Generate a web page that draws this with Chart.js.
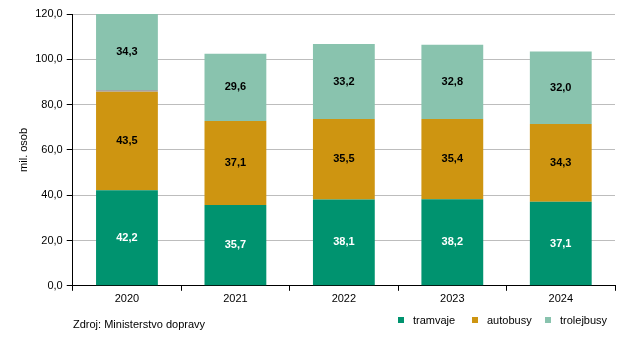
<!DOCTYPE html>
<html>
<head>
<meta charset="utf-8">
<script src="https://cdn.jsdelivr.net/npm/chart.js@4"></script>
<style>
body { margin: 0; background: #fff; font-family: "Liberation Sans", Arial, sans-serif; }
#wrap { position: relative; width: 639px; height: 340px; }
#src { position: absolute; left: 73px; top: 318px; font-size: 11px; color: #000; }
#legend span.it { position: absolute; top: 313px; font-size: 11px; color: #000; display: flex; align-items: center; height: 14px; white-space: nowrap; }
#legend i { display: inline-block; width: 6px; height: 6px; margin-right: 9px; }
</style>
</head>
<body>
<div id="wrap">
<canvas id="myChart" width="639" height="340"></canvas>
<div id="src">Zdroj: Ministerstvo dopravy</div>
<div id="legend"></div>
</div>
<script>
const years = ["2020", "2021", "2022", "2023", "2024"];
const tramvaje = [42.2, 35.7, 38.1, 38.2, 37.1];
const autobusy = [43.5, 37.1, 35.5, 35.4, 34.3];
const ostatni = [0.8, 0, 0, 0, 0];
const trolejbusy = [34.3, 29.6, 33.2, 32.8, 32.0];
const yTicks = [0, 20, 40, 60, 80, 100, 120];

const ctx = document.getElementById('myChart');
const FONT = '"Liberation Sans", Arial, sans-serif';

function fmt(v) {
return v.toFixed(1).replace('.', ',');
}

// values written in the middle of each segment
const barLabels = {
id: 'barLabels',
afterDatasetsDraw(chart) {
const c = chart.ctx;
c.save();
c.font = 'bold 11px ' + FONT;
c.textAlign = 'center';
c.textBaseline = 'middle';
chart.data.datasets.forEach((ds, i) => {
if (!ds.showLabels) return;
chart.getDatasetMeta(i).data.forEach((bar, j) => {
let top = Math.max(bar.y, chart.chartArea.top);
let y = (top + bar.base) / 2;
c.fillStyle = ds.labelColor;
c.fillText(fmt(ds.data[j]), bar.x, y);
});
});
c.restore();
}
};

const chart = new Chart(ctx, {
type: 'bar',
data: {
labels: years,
datasets: [
{ label: "tramvaje", data: tramvaje, backgroundColor: "#00936F", showLabels: true, labelColor: "#fff" },
{ label: "autobusy", data: autobusy, backgroundColor: "#CE9511", showLabels: true, labelColor: "#000" },
{ label: "ostatní", data: ostatni, backgroundColor: "#A3A3A3", showLabels: false, noLegend: true },
{ label: "trolejbusy", data: trolejbusy, backgroundColor: "#89C3AE", showLabels: true, labelColor: "#000" }
]
},
options: {
responsive: false,
animation: false,
layout: { padding: { top: 14, right: 24, left: 13, bottom: 32 } },
datasets: { bar: { barPercentage: 0.57, categoryPercentage: 1 } },
plugins: {
tooltip: { enabled: false },
legend: { display: false }
},
scales: {
x: {
stacked: true,
grid: { display: true, drawOnChartArea: false, offset: true, tickLength: 5, color: '#000' },
border: { color: '#000' },
ticks: { color: '#000', padding: 2, font: { size: 11, family: FONT } }
},
y: {
stacked: true,
min: 0,
max: 120,
afterBuildTicks: axis => { axis.ticks = yTicks.map(v => ({ value: v })); },
grid: { color: '#BDBDBD', tickColor: '#000', tickLength: 6 },
border: { color: '#000' },
ticks: { color: '#000', padding: 4, font: { size: 11, family: FONT }, callback: v => fmt(v) },
title: { display: true, text: 'mil. osob', color: '#000', padding: { top: 4, bottom: 1 }, font: { size: 11, family: FONT } }
}
}
},
plugins: [barLabels]
});

// legend as html, filled from the chart's datasets
const legend = document.getElementById('legend');
const legendX = [398, 472, 545];
let k = 0;
chart.data.datasets.forEach(ds => {
if (ds.noLegend) return;
const it = document.createElement('span');
it.className = 'it';
it.style.left = legendX[k++] + 'px';
it.innerHTML = '<i style="background:' + ds.backgroundColor + '"></i>' + ds.label;
legend.appendChild(it);
});
</script>
</body>
</html>
